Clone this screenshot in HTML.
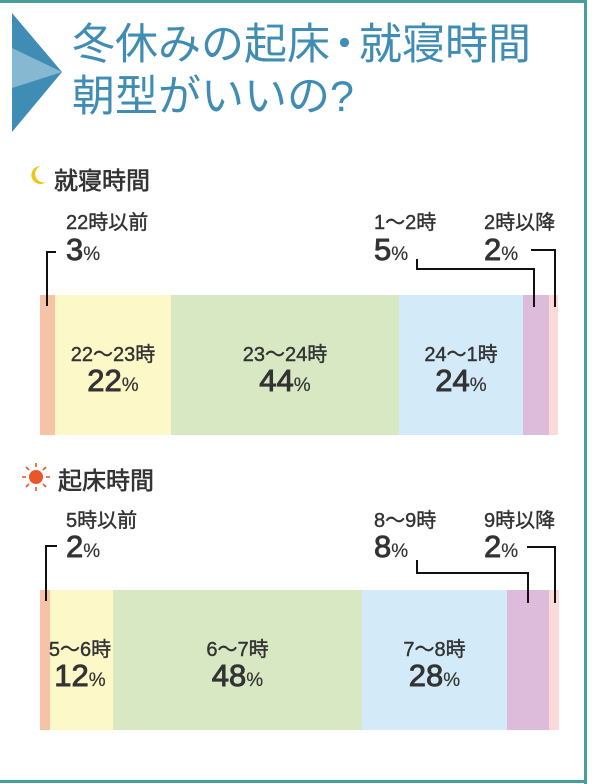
<!DOCTYPE html>
<html><head><meta charset="utf-8"><style>
body{margin:0;width:600px;height:784px;background:#fff;position:relative;overflow:hidden;font-family:"Liberation Sans","Noto Sans CJK JP",sans-serif;color:#333}
.a{position:absolute}
.seg{position:absolute}
.t{position:absolute;white-space:nowrap;font-weight:normal}
.l{font-size:20px;-webkit-text-stroke:0.4px #333}
.n{font-size:31px;-webkit-text-stroke:0.9px #333;line-height:34px}
.p{font-size:19px;-webkit-text-stroke:0.2px #333}
.ln{position:absolute;background:#111}
.c{text-align:center}
</style></head><body>
<div class="a" style="left:0;top:0;width:587px;height:3px;background:#4a9e9a"></div>
<div class="a" style="left:584px;top:0;width:3px;height:784px;background:#4a9e9a"></div>
<div class="a" style="left:0;top:780px;width:587px;height:3px;background:#4a9e9a"></div>
<svg class="a" style="left:12px;top:13px" width="52" height="120"><polygon points="0,0 50,59 0,119" fill="#3f8db4"/><polygon points="0,35 50,59 0,75" fill="#86b8d2"/></svg>
<div class="a" style="left:72px;top:19px;font-size:43px;line-height:52px;color:#3f8db4;white-space:nowrap">冬休みの起床<span style="letter-spacing:-14px;margin-left:-7px">・</span><span style="margin-left:7px"></span>就寝時間<br>朝型がいいの<span style="font-family:'Liberation Sans',sans-serif">?</span></div>

<svg class="a" style="left:27px;top:163px" width="22" height="24"><path d="M14,3 A9,9 0 1 0 19,19 A8,8 0 0 1 14,3Z" fill="#f0c419"/></svg>
<div class="t" style="left:54px;top:161px;font-size:24px;-webkit-text-stroke:0.6px #333">就寝時間</div>

<div class="seg" style="left:40px;top:295px;width:15px;height:140px;background:#f6c3a9"></div>
<div class="seg" style="left:55px;top:295px;width:116px;height:140px;background:#fdf8c8"></div>
<div class="seg" style="left:171px;top:295px;width:228px;height:140px;background:#d7e8c3"></div>
<div class="seg" style="left:399px;top:295px;width:124px;height:140px;background:#d3ebf8"></div>
<div class="seg" style="left:523px;top:295px;width:26px;height:140px;background:#dcbcda"></div>
<div class="seg" style="left:549px;top:295px;width:9px;height:140px;background:#fbdad8"></div>

<div class="t l" style="left:66px;top:206px">22時以前</div>
<div class="t n" style="left:66px;top:233px">3<span class="p">%</span></div>
<div class="t l" style="left:374px;top:206px">1～2時</div>
<div class="t n" style="left:374px;top:233px">5<span class="p">%</span></div>
<div class="t l" style="left:484px;top:206px">2時以降</div>
<div class="t n" style="left:484px;top:233px">2<span class="p">%</span></div>

<div class="ln" style="left:46px;top:251px;width:2px;height:55px"></div>
<div class="ln" style="left:46px;top:251px;width:10px;height:2px"></div>
<div class="ln" style="left:416px;top:259px;width:2px;height:11px"></div>
<div class="ln" style="left:416px;top:268px;width:119px;height:2px"></div>
<div class="ln" style="left:533px;top:268px;width:2px;height:39px"></div>
<div class="ln" style="left:531px;top:249px;width:25px;height:2px"></div>
<div class="ln" style="left:554px;top:249px;width:2px;height:58px"></div>

<div class="t l c" style="left:55px;top:338px;width:116px">22～23時</div>
<div class="t n c" style="left:55px;top:364px;width:116px">22<span class="p">%</span></div>
<div class="t l c" style="left:171px;top:338px;width:228px">23～24時</div>
<div class="t n c" style="left:171px;top:364px;width:228px">44<span class="p">%</span></div>
<div class="t l c" style="left:399px;top:338px;width:124px">24～1時</div>
<div class="t n c" style="left:399px;top:364px;width:124px">24<span class="p">%</span></div>

<svg class="a" style="left:21px;top:462px" width="30" height="30"><circle cx="15" cy="15" r="7" fill="#e8562a"/><g stroke="#e8562a" stroke-width="1.6"><line x1="15" y1="1" x2="15" y2="5"/><line x1="15" y1="25" x2="15" y2="29"/><line x1="1" y1="15" x2="5" y2="15"/><line x1="25" y1="15" x2="29" y2="15"/><line x1="5" y1="5" x2="8" y2="8"/><line x1="22" y1="22" x2="25" y2="25"/><line x1="5" y1="25" x2="8" y2="22"/><line x1="22" y1="8" x2="25" y2="5"/></g></svg>
<div class="t" style="left:58px;top:461px;font-size:24px;-webkit-text-stroke:0.6px #333">起床時間</div>

<div class="seg" style="left:40px;top:590px;width:10px;height:140px;background:#f6c3a9"></div>
<div class="seg" style="left:50px;top:590px;width:63px;height:140px;background:#fdf8c8"></div>
<div class="seg" style="left:113px;top:590px;width:249px;height:140px;background:#d7e8c3"></div>
<div class="seg" style="left:362px;top:590px;width:145px;height:140px;background:#d3ebf8"></div>
<div class="seg" style="left:507px;top:590px;width:42px;height:140px;background:#dcbcda"></div>
<div class="seg" style="left:549px;top:590px;width:10px;height:140px;background:#fbdad8"></div>

<div class="t l" style="left:66px;top:504px">5時以前</div>
<div class="t n" style="left:66px;top:530px">2<span class="p">%</span></div>
<div class="t l" style="left:374px;top:504px">8～9時</div>
<div class="t n" style="left:374px;top:530px">8<span class="p">%</span></div>
<div class="t l" style="left:484px;top:504px">9時以降</div>
<div class="t n" style="left:484px;top:530px">2<span class="p">%</span></div>

<div class="ln" style="left:45px;top:545px;width:2px;height:56px"></div>
<div class="ln" style="left:45px;top:545px;width:12px;height:2px"></div>
<div class="ln" style="left:416px;top:560px;width:2px;height:14px"></div>
<div class="ln" style="left:416px;top:572px;width:113px;height:2px"></div>
<div class="ln" style="left:527px;top:572px;width:2px;height:31px"></div>
<div class="ln" style="left:527px;top:546px;width:29px;height:2px"></div>
<div class="ln" style="left:554px;top:546px;width:2px;height:57px"></div>

<div class="t l c" style="left:40px;top:633px;width:80px">5～6時</div>
<div class="t n c" style="left:40px;top:659px;width:80px">12<span class="p">%</span></div>
<div class="t l c" style="left:113px;top:633px;width:249px">6～7時</div>
<div class="t n c" style="left:113px;top:659px;width:249px">48<span class="p">%</span></div>
<div class="t l c" style="left:362px;top:633px;width:145px">7～8時</div>
<div class="t n c" style="left:362px;top:659px;width:145px">28<span class="p">%</span></div>
</body></html>
